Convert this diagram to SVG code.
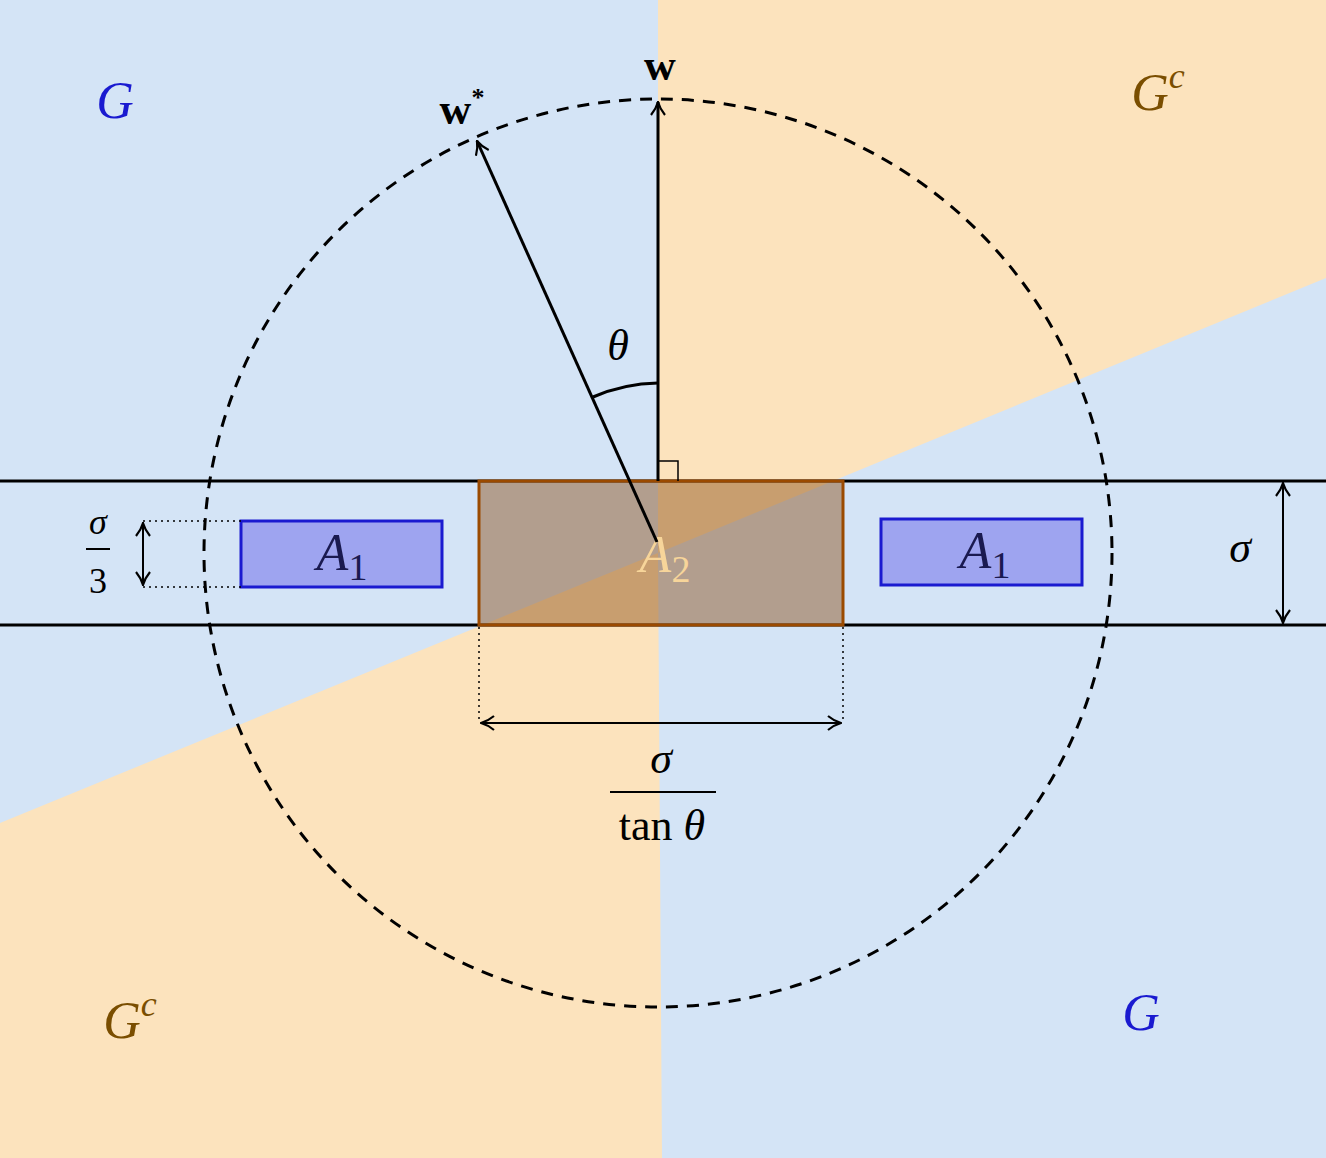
<svg xmlns="http://www.w3.org/2000/svg" width="1326" height="1158" viewBox="0 0 1326 1158">
<defs>
<style>
.m{font-family:"Liberation Serif","DejaVu Serif",serif;font-style:italic}
.r{font-family:"Liberation Serif","DejaVu Serif",serif}
.ln{stroke:#000;stroke-width:3;fill:none}
.dot{stroke:#000;stroke-width:1.5;stroke-dasharray:2 4;fill:none}
.ar{stroke:#000;stroke-width:2;fill:none}
.a1{fill:#9ea4f0;stroke:#1a1ad0;stroke-width:3}
</style>
<marker id="h" viewBox="0 0 16 16" refX="15" refY="8" markerWidth="16" markerHeight="16" markerUnits="userSpaceOnUse" orient="auto-start-reverse">
<path d="M2,1 Q8,6 15,8 Q8,10 2,15" fill="none" stroke="#000" stroke-width="2.2"/>
</marker>
</defs>
<g id="background">
<rect width="1326" height="1158" fill="#d4e4f6"/>
<polygon points="658,0 1326,0 1326,278 658,553" fill="#fce3bd"/>
<polygon points="658,553 0,823 0,1158 662,1158" fill="#fce3bd"/>
</g>
<g id="strip">
<line class="ln" x1="0" y1="481" x2="1326" y2="481"/>
<line class="ln" x1="0" y1="625" x2="1326" y2="625"/>
</g>
<g id="A2">
<rect x="479" y="481" width="364" height="144" fill="#8a4a10" fill-opacity="0.45" stroke="#9b4a00" stroke-width="3"/>
<text class="m" x="665" y="572" font-size="52" fill="#f7d59a" text-anchor="middle">A<tspan font-style="normal" font-size="38" dy="10">2</tspan></text>
</g>
<g id="A1-left">
<rect class="a1" x="241" y="521" width="201" height="66"/>
<text class="m" x="342" y="570" font-size="52" fill="#1a1a50" text-anchor="middle">A<tspan font-style="normal" font-size="38" dy="10">1</tspan></text>
</g>
<g id="A1-right">
<rect class="a1" x="881" y="519" width="201" height="66"/>
<text class="m" x="985" y="568" font-size="52" fill="#1a1a50" text-anchor="middle">A<tspan font-style="normal" font-size="38" dy="10">1</tspan></text>
</g>
<g id="circle">
<circle cx="658" cy="553" r="454" fill="none" stroke="#000" stroke-width="3" stroke-dasharray="12 9"/>
</g>
<g id="connectors">
<line class="ln" x1="658" y1="481" x2="658" y2="102" marker-end="url(#h)"/>
<line class="ln" x1="657" y1="542" x2="477" y2="141" marker-end="url(#h)"/>
<path class="ln" d="M593,397 A170,170 0 0 1 658,383"/>
<polyline fill="none" stroke="#000" stroke-width="1.5" points="658,461 678,461 678,481"/>
<line class="dot" x1="143" y1="521" x2="241" y2="521"/>
<line class="dot" x1="143" y1="587" x2="241" y2="587"/>
<line class="ar" x1="143" y1="523" x2="143" y2="585" marker-start="url(#h)" marker-end="url(#h)"/>
<line class="dot" x1="479" y1="627" x2="479" y2="720"/>
<line class="dot" x1="843" y1="627" x2="843" y2="720"/>
<line class="ar" x1="481" y1="723" x2="841" y2="723" marker-start="url(#h)" marker-end="url(#h)"/>
<line class="ar" x1="1283" y1="483" x2="1283" y2="623" marker-start="url(#h)" marker-end="url(#h)"/>
<line stroke="#000" stroke-width="2" x1="86" y1="549" x2="110" y2="549"/>
<line stroke="#000" stroke-width="2" x1="610" y1="792" x2="716" y2="792"/>
</g>
<g id="labels">
<text class="m" x="115" y="118" font-size="52" fill="#1a1ad0" text-anchor="middle">G</text>
<text class="m" x="1158" y="110" font-size="52" fill="#7a4e00" text-anchor="middle">G<tspan font-size="36" dy="-22">c</tspan></text>
<text class="m" x="130" y="1038" font-size="52" fill="#7a4e00" text-anchor="middle">G<tspan font-size="36" dy="-22">c</tspan></text>
<text class="m" x="1141" y="1030" font-size="52" fill="#1a1ad0" text-anchor="middle">G</text>
<text class="r" x="660" y="80" font-size="44" font-weight="bold" text-anchor="middle">w</text>
<text class="r" x="462" y="124" font-size="44" font-weight="bold" text-anchor="middle">w<tspan font-size="26" dy="-18">*</tspan></text>
<text class="m" x="618" y="360" font-size="44" text-anchor="middle">θ</text>
<text class="m" x="98" y="534" font-size="36" text-anchor="middle">σ</text>
<text class="r" x="98" y="593" font-size="36" text-anchor="middle">3</text>
<text class="m" x="1240" y="562" font-size="44" text-anchor="middle">σ</text>
<text class="m" x="661" y="773" font-size="44" text-anchor="middle">σ</text>
<text class="r" x="662" y="840" font-size="44" text-anchor="middle">tan <tspan class="m">θ</tspan></text>
</g>
</svg>
